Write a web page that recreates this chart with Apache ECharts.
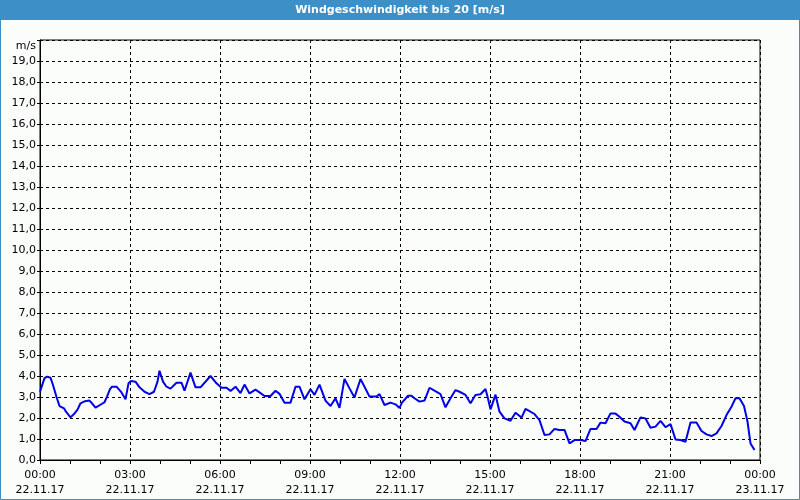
<!DOCTYPE html>
<html>
<head>
<meta charset="utf-8">
<script src="https://cdn.jsdelivr.net/npm/echarts@6/dist/echarts.min.js"></script>
<style>
html,body{margin:0;padding:0;background:#fbfdfb;}
#c{width:800px;height:500px;}
</style>
</head>
<body>
<div id="c"></div>
<script>
const titleText = 'Windgeschwindigkeit bis 20 [m/s]';
const unitLabel = 'm/s';
const dateLabel = '22.11.17';
const endDateLabel = '23.11.17';
// minutes since 22.11.17 00:00
const times = [0,9,14,21,26,33,39,48,52,61,68,75,81,90,99,104,111,120,129,134,140,144,153,163,171,177,182,191,199,209,219,228,235,239,246,253,261,273,283,289,301,311,321,341,353,363,373,381,391,401,409,419,431,439,449,461,471,479,489,501,511,519,529,541,549,559,571,581,591,599,609,619,629,641,649,659,673,679,689,701,711,719,724,736,743,749,759,769,779,789,801,811,821,831,839,851,861,871,881,891,895,901,911,919,929,941,951,963,971,979,989,999,1009,1019,1029,1039,1049,1059,1069,1081,1091,1101,1113,1121,1131,1141,1151,1159,1169,1181,1189,1201,1211,1221,1231,1241,1251,1261,1271,1281,1291,1301,1313,1323,1333,1343,1353,1363,1373,1383,1391,1399,1408,1415,1421,1429];
// wind speed m/s
const speeds = [3.25,3.90,3.97,3.92,3.57,3.00,2.57,2.46,2.30,2.03,2.19,2.40,2.70,2.80,2.83,2.70,2.49,2.62,2.75,3.02,3.37,3.49,3.49,3.22,2.89,3.65,3.76,3.73,3.46,3.25,3.14,3.25,3.73,4.25,3.73,3.49,3.40,3.68,3.68,3.30,4.16,3.46,3.46,4.00,3.65,3.44,3.44,3.29,3.49,3.19,3.59,3.17,3.35,3.22,3.05,3.05,3.30,3.15,2.73,2.73,3.49,3.49,2.89,3.37,3.10,3.59,2.83,2.57,2.94,2.48,3.86,3.41,2.98,3.86,3.49,3.02,3.02,3.14,2.62,2.73,2.65,2.48,2.73,3.06,3.06,2.94,2.78,2.83,3.44,3.30,3.14,2.51,2.94,3.33,3.25,3.10,2.70,3.10,3.13,3.38,3.02,2.41,3.11,2.30,1.98,1.87,2.25,2.02,2.43,2.33,2.19,1.90,1.19,1.22,1.48,1.43,1.43,0.79,0.95,0.95,0.90,1.48,1.48,1.78,1.75,2.22,2.21,2.06,1.83,1.75,1.43,2.03,1.98,1.54,1.59,1.86,1.56,1.71,0.98,0.95,0.87,1.79,1.79,1.38,1.22,1.14,1.27,1.62,2.14,2.54,2.94,2.94,2.57,1.83,0.79,0.48];

const data = times.map((t, i) => [t, speeds[i]]);
const chart = echarts.init(document.getElementById('c'), null, {renderer: 'canvas'});
const fontFamily = 'DejaVu Sans, Verdana, sans-serif';
function pad(n){return (n<10?'0':'')+n;}
chart.setOption({
  animation: false,
  backgroundColor: '#fbfdfb',
  graphic: [
    {type: 'rect', shape: {x: 0, y: 0, width: 800, height: 20}, style: {fill: '#3c8fc7'}, z: 10},
    {type: 'rect', shape: {x: 0.5, y: 0.5, width: 799, height: 499}, style: {fill: null, stroke: '#3c8fc7', lineWidth: 1}, z: 10},
    {type: 'text', x: 400, y: 10, style: {text: titleText, fill: '#ffffff', font: 'bold 11px ' + fontFamily, align: 'center', verticalAlign: 'middle'}, z: 11},
    {type: 'text', x: 36, y: 46, style: {text: unitLabel, fill: '#000', font: '11px ' + fontFamily, align: 'right', verticalAlign: 'middle'}, z: 11}
  ],
  grid: {left: 40, right: 40, top: 40, bottom: 40, show: true, borderColor: '#000', borderWidth: 1, backgroundColor: 'transparent'},
  xAxis: {
    type: 'value', min: 0, max: 1440, interval: 180,
    axisLine: {lineStyle: {color: '#000', width: 1}},
    axisTick: {show: true, length: 4, lineStyle: {color: '#000'}},
    minorTick: {show: true, splitNumber: 3, length: 4, lineStyle: {color: '#000'}},
    splitLine: {show: true, lineStyle: {color: '#000', type: [3, 3], width: 1}},
    axisLabel: {
      color: '#000', fontFamily: fontFamily, fontSize: 11, lineHeight: 15, margin: 8,
      formatter: function (v) {
        const h = Math.floor(v / 60) % 24, m = v % 60;
        return pad(h) + ':' + pad(m) + '\n' + (v >= 1440 ? endDateLabel : dateLabel);
      }
    }
  },
  yAxis: {
    type: 'value', min: 0, max: 20, interval: 1,
    axisLine: {show: true, lineStyle: {color: '#000', width: 1}},
    axisTick: {show: true, length: 3, lineStyle: {color: '#000'}},
    splitLine: {show: true, lineStyle: {color: '#000', type: [3, 3], width: 1}},
    axisLabel: {
      color: '#000', fontFamily: fontFamily, fontSize: 11, margin: 4,
      formatter: function (v) { return v === 20 ? '' : v.toFixed(1).replace('.', ','); }
    }
  },
  series: [{
    type: 'line', data: data, showSymbol: false, symbol: 'none',
    lineStyle: {color: '#0000e6', width: 2},
    z: 5
  }]
});
</script>
</body>
</html>
